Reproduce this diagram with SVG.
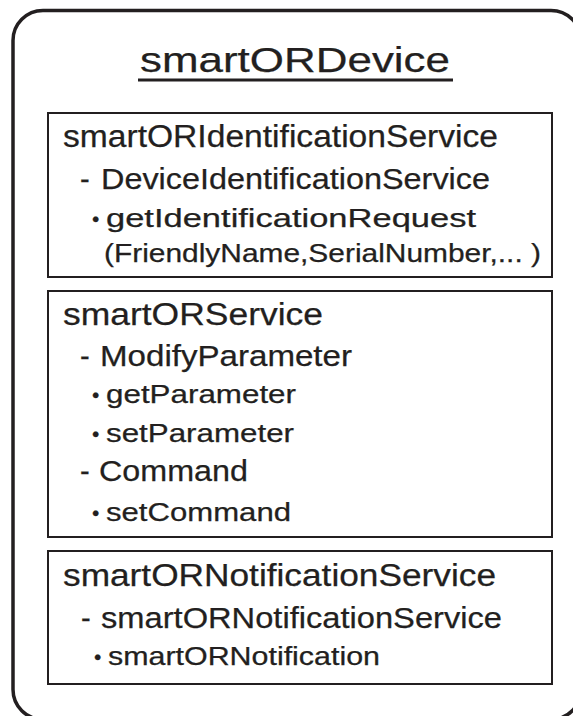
<svg xmlns="http://www.w3.org/2000/svg" width="573" height="716" viewBox="0 0 573 716">
  <style>
    text { font-family: "Liberation Sans", Arial, sans-serif; fill: #231f20; stroke: #231f20; stroke-width: 0.25; }
    .title { font-size: 35px; }
    .head { font-size: 31px; }
    .sub { font-size: 29px; }
    .item { font-size: 25px; }
    .dot { font-size: 21px; }
    .box { fill: #ffffff; stroke: #231f20; stroke-width: 2; }
    .outer { fill: #ffffff; stroke: #231f20; stroke-width: 3.5; }
  </style>
  <rect width="573" height="716" fill="#ffffff"/>
  <g id="smartORDevice">
    <rect class="outer" x="13" y="10.5" width="568" height="709" rx="30" ry="30"/>
    <text class="title" x="140" y="72" textLength="310" lengthAdjust="spacingAndGlyphs">smartORDevice</text>
    <rect x="138" y="78.5" width="315" height="3" fill="#231f20"/>
  </g>
  <g id="smartORIdentificationService">
    <rect class="box" x="48" y="113" width="504" height="164"/>
    <text class="head" x="63" y="147" textLength="435" lengthAdjust="spacingAndGlyphs">smartORIdentificationService</text>
    <text class="sub" y="189"><tspan x="80">-</tspan> <tspan x="101" textLength="389" lengthAdjust="spacingAndGlyphs">DeviceIdentificationService</tspan></text>
    <text class="item" y="227"><tspan class="dot" x="92" dy="-1">•</tspan> <tspan x="106" dy="1" textLength="370" lengthAdjust="spacingAndGlyphs">getIdentificationRequest</tspan></text>
    <text class="item" x="104" y="262" textLength="437" lengthAdjust="spacingAndGlyphs">(FriendlyName,SerialNumber,... )</text>
  </g>
  <g id="smartORService">
    <rect class="box" x="48" y="291" width="504" height="246"/>
    <text class="head" x="63" y="325" textLength="260" lengthAdjust="spacingAndGlyphs">smartORService</text>
    <text class="sub" y="366"><tspan x="80">-</tspan> <tspan x="100" textLength="252" lengthAdjust="spacingAndGlyphs">ModifyParameter</tspan></text>
    <text class="item" y="403"><tspan class="dot" x="92" dy="-1">•</tspan> <tspan x="106" dy="1" textLength="190" lengthAdjust="spacingAndGlyphs">getParameter</tspan></text>
    <text class="item" y="442"><tspan class="dot" x="92" dy="-1">•</tspan> <tspan x="106" dy="1" textLength="188" lengthAdjust="spacingAndGlyphs">setParameter</tspan></text>
    <text class="sub" y="481"><tspan x="80">-</tspan> <tspan x="99" textLength="149" lengthAdjust="spacingAndGlyphs">Command</tspan></text>
    <text class="item" y="521"><tspan class="dot" x="92" dy="-1">•</tspan> <tspan x="106" dy="1" textLength="185" lengthAdjust="spacingAndGlyphs">setCommand</tspan></text>
  </g>
  <g id="smartORNotificationService">
    <rect class="box" x="48" y="551" width="504" height="133"/>
    <text class="head" x="63" y="586" textLength="433" lengthAdjust="spacingAndGlyphs">smartORNotificationService</text>
    <text class="sub" y="628"><tspan x="81">-</tspan> <tspan x="101" textLength="401" lengthAdjust="spacingAndGlyphs">smartORNotificationService</tspan></text>
    <text class="item" y="665"><tspan class="dot" x="94" dy="-1">•</tspan> <tspan x="108" dy="1" textLength="272" lengthAdjust="spacingAndGlyphs">smartORNotification</tspan></text>
  </g>
  <g id="connectors"/>
</svg>
